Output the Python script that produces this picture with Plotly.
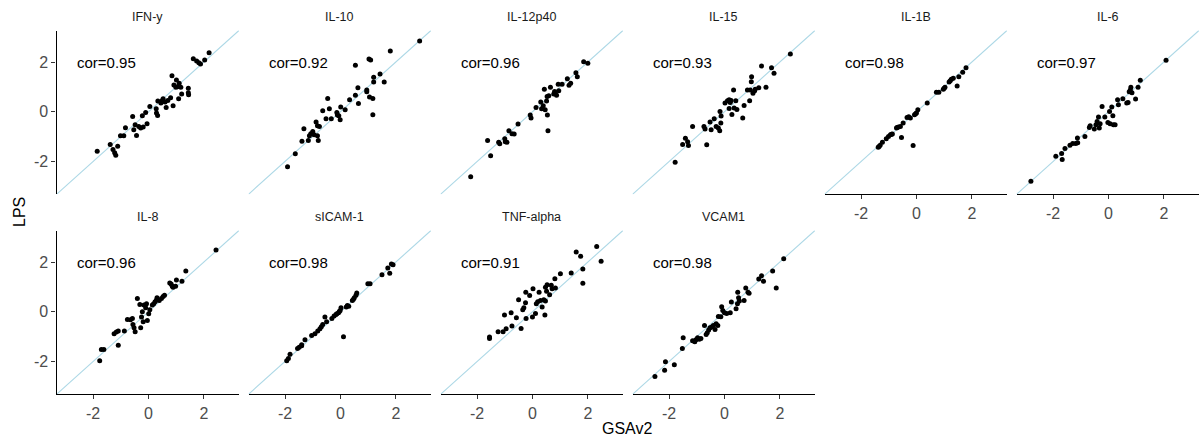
import plotly.graph_objects as go

# ---------------- data ----------------
panel_names = ["IFN-y", "IL-10", "IL-12p40", "IL-15", "IL-1B", "IL-6",
               "IL-8", "sICAM-1", "TNF-alpha", "VCAM1"]
cor_values = [0.95, 0.92, 0.96, 0.93, 0.98, 0.97, 0.96, 0.98, 0.91, 0.98]

ifn_x = [-1.85, -1.38, -1.28, -1.22, -1.18, -1.11, -1.01, -0.89, -0.83, -0.57, -0.53, -0.48, -0.43,
         -0.35, -0.28, -0.19, -0.22, -0.10, -0.05, 0.05, 0.28, 0.29, 0.33, 0.45, 0.50, 0.53, 0.60,
         0.64, 0.70, 0.80, 0.85, 0.89, 0.92, 0.99, 1.01, 1.05, 1.09, 1.11, 1.17, 1.20, 1.44, 1.44,
         1.45, 1.62, 1.74, 1.82, 1.88, 2.03, 2.19, 0.34]
ifn_y = [-1.59, -1.32, -1.52, -1.65, -1.75, -1.39, -0.96, -0.96, -0.64, -0.19, -0.72, -0.52, -0.95,
         -0.59, -0.65, -0.61, -0.16, -0.03, -0.48, 0.21, 0.12, -0.05, -0.15, 0.35, 0.45, 0.52, 0.39,
         0.17, 0.45, 0.56, 1.45, 0.24, 1.08, 0.99, 1.28, 1.01, 0.52, 1.15, 0.99, 0.72, 0.95, 0.77,
         0.69, 2.13, 2.04, 1.97, 1.92, 2.08, 2.37, 0.43]

il10_x = [-1.91, -1.63, -1.39, -1.32, -1.16, -1.12, -1.07, -1.00, -0.95, -0.88, -0.83, -0.80, -0.83,
          -0.76, -0.64, -0.52, -0.46, -0.40, -0.33, -0.13, -0.11, -0.06, -0.01, 0.01, 0.17, 0.33,
          0.54, 0.54, 0.63, 0.65, 0.95, 0.95, 1.03, 1.09, 1.05, 1.17, 1.20, 1.20, 1.17, 1.43, 1.58,
          1.80, 2.86]
il10_y = [-2.21, -1.69, -1.19, -0.68, -1.16, -0.96, -0.88, -0.79, -0.92, -0.41, -0.96, -1.16, -0.56,
          -0.59, 0.04, -0.28, 0.53, 0.12, -0.28, -0.03, -0.13, -0.16, -0.32, 0.19, 0.08, 0.48,
          1.87, 0.67, 0.97, 0.33, 0.88, 0.81, 2.12, 2.08, 0.59, 0.53, 1.39, 1.20, -0.12, 1.52, 1.20,
          2.45, 2.85]

il12_x = [-2.23, -1.62, -1.51, -1.22, -1.18, -1.00, -0.98, -0.92, -0.85, -0.74, -0.66, -0.52, -0.08,
          -0.05, 0.13, 0.30, 0.33, 0.39, 0.43, 0.46, 0.51, 0.54, 0.56, 0.53, 0.59, 0.65, 0.77, 0.82,
          0.87, 0.93, 0.95, 1.07, 1.26, 1.32, 1.38, 1.57, 1.62, 1.85, 2.00, 0.80]
il12_y = [-2.61, -1.16, -1.77, -1.23, -1.29, -1.09, -1.21, -1.23, -0.76, -0.88, -0.89, -0.49, -0.13,
          -0.25, 0.17, 0.39, 0.12, 0.24, 0.91, 0.08, 0.43, -0.13, -0.76, 0.61, 0.64, 0.99, 0.72, 0.76,
          0.67, 1.11, 0.85, 1.11, 1.33, 1.07, 1.15, 1.57, 1.41, 2.01, 1.95, 0.82]

il15_x = [-1.78, -1.51, -1.41, -1.33, -1.30, -1.15, -0.74, -0.70, -0.64, -0.52, -0.48, -0.37, -0.30,
          -0.22, -0.17, -0.13, -0.16, -0.12, 0.02, 0.11, 0.17, 0.21, 0.17, 0.24, 0.27, 0.33, 0.35,
          0.41, 0.45, 0.66, 0.71, 0.83, 0.91, 0.93, 0.97, 0.98, 1.03, 1.09, 1.11, 1.24, 1.34, 1.50,
          1.70, 1.79, 2.38]
il15_y = [-2.03, -1.32, -1.07, -1.21, -1.36, -0.59, -0.59, -0.69, -1.33, -0.41, -0.72, -0.28, -0.59,
          -0.65, -0.76, -0.45, 0.01, -0.17, 0.35, 0.44, 0.48, 0.37, 0.13, 0.45, -0.11, 0.88, 0.15,
          0.44, 0.09, -0.25, 0.25, 0.88, 0.44, 0.88, 1.21, 1.41, 0.75, 0.85, 0.91, 0.97, 1.84, 0.99,
          1.77, 1.55, 2.32]

il1b_x = [-1.38, -1.31, -1.23, -1.09, -1.01, -0.94, -0.87, -0.72, -0.65, -0.58, -0.54, -0.48, -0.34,
          -0.22, -0.12, -0.07, 0.00, 0.05, 0.39, 0.72, 0.81, 0.97, 1.03, 1.18, 1.26, 1.33, 1.47,
          1.53, 1.67, 1.79, -0.70, -0.28, -0.03, 1.00, 1.22, -1.35, -0.90]
il1b_y = [-1.43, -1.35, -1.23, -1.09, -0.99, -0.92, -0.89, -0.65, -0.61, -0.59, -1.03, -0.45, -0.23,
          -0.25, -1.36, -0.12, -0.05, 0.08, 0.35, 0.79, 0.79, 0.91, 0.99, 1.20, 1.31, 1.35, 1.04,
          1.41, 1.59, 1.77, -0.63, -0.20, -0.08, 0.95, 1.25, -1.40, -0.90]

il6_x = [-2.80, -1.90, -1.69, -1.67, -1.57, -1.39, -1.29, -1.18, -1.11, -1.12, -0.85, -0.69, -0.66,
         -0.51, -0.45, -0.41, -0.36, -0.33, -0.30, -0.23, -0.13, -0.02, 0.04, 0.06, 0.12, 0.16, 0.18,
         0.24, 0.36, 0.33, 0.52, 0.66, 0.71, 0.75, 0.79, 0.81, 0.85, 0.98, 1.07, 1.15, 2.08]
il6_y = [-2.79, -1.79, -1.68, -1.92, -1.48, -1.35, -1.28, -1.28, -1.25, -1.05, -0.99, -0.63, -0.56,
         -0.69, -0.52, -0.39, -0.21, -0.65, -0.48, 0.21, -0.21, -0.43, 0.01, -0.48, 0.19, -0.16, -0.52,
         -0.52, 0.28, 0.48, 0.52, 0.35, 0.37, 0.81, 0.88, 0.99, 0.77, 0.51, 0.99, 1.27, 2.07]

il8_x = [-1.76, -1.70, -1.61, -1.24, -1.16, -1.09, -1.09, -0.87, -0.76, -0.65, -0.58, -0.56, -0.52,
         -0.48, -0.40, -0.31, -0.28, -0.25, -0.22, -0.19, -0.16, -0.10, -0.07, -0.04, 0.01, 0.05,
         0.14, 0.19, 0.24, 0.29, 0.31, 0.39, 0.47, 0.53, 0.58, 0.77, 0.82, 0.86, 0.89, 0.98, 1.01,
         1.21, 1.35, 2.44]
il8_y = [-1.97, -1.52, -1.52, -0.88, -0.81, -0.77, -1.35, -0.77, -0.31, -0.32, -0.27, -0.51, -0.64,
         -0.80, 0.53, 0.29, -0.64, -0.21, 0.00, -0.40, 0.27, 0.16, 0.32, -0.35, -0.08, 0.08,
         0.27, 0.32, 0.40, 0.47, 0.56, 0.45, 0.53, 0.61, 0.67, 1.16, 1.12, 1.03, 0.99, 1.03, 1.28,
         1.23, 1.64, 2.49]

sicam_x = [-1.94, -1.88, -1.82, -1.55, -1.49, -1.40, -1.28, -1.04, -0.92, -0.82, -0.74, -0.64, -0.56,
           -0.31, -0.23, -0.16, -0.07, -0.01, 0.02, 0.11, 0.21, 0.25, 0.43, 0.50, 0.56, 0.59, 0.99,
           1.07, 1.50, 1.71, 1.78, 1.84, 1.90, -0.13, -0.04, -0.69, -1.40, -0.50, 0.30, 0.47]
sicam_y = [-1.97, -1.88, -1.71, -1.48, -1.43, -1.33, -1.13, -0.95, -0.88, -0.77, -0.68, -0.51, -0.21,
           -0.27, -0.17, -0.11, -0.04, 0.05, 0.16, -1.00, 0.19, 0.25, 0.45, 0.56, 0.67, 0.76, 1.13,
           1.13, 1.49, 1.76, 1.55, 1.92, 1.89, -0.08, 0.01, -0.60, -1.37, -0.40, 0.22, 0.50]

tnf_x = [-1.55, -1.55, -1.24, -1.06, -1.01, -0.95, -0.77, -0.74, -0.58, -0.50, -0.41, -0.35, -0.31,
         -0.25, -0.24, -0.23, -0.10, 0.00, 0.02, 0.11, 0.14, 0.19, 0.24, 0.29, 0.35, 0.41, 0.45,
         0.47, 0.47, 0.51, 0.53, 0.62, 0.68, 0.71, 0.81, 0.83, 1.01, 1.40, 1.58, 1.74, 1.82, 1.82,
         2.32, 2.48]
tnf_y = [-1.01, -1.08, -0.80, -0.80, -0.13, -0.68, -0.04, -0.57, -0.24, 0.48, -0.67, 0.08, 0.16,
         0.36, 0.79, -0.27, 0.65, -0.21, 0.93, -0.07, 0.32, 0.40, 0.79, 0.45, 0.19, 0.48, -0.13,
         0.43, 0.99, 0.83, 1.09, 0.69, 1.07, 0.93, 1.33, 0.96, 1.53, 1.56, 2.40, 2.23, 1.72, 1.15,
         2.63, 2.03]

vcam_x = [-2.51, -2.16, -2.13, -1.81, -1.52, -1.49, -1.15, -1.07, -1.03, -0.97, -0.91, -0.85, -0.72,
          -0.66, -0.62, -0.57, -0.52, -0.46, -0.40, -0.34, -0.30, -0.24, -0.22, -0.13, -0.10, -0.06,
          0.00, 0.08, 0.21, 0.25, 0.42, 0.47, 0.51, 0.48, 0.54, 0.71, 0.77, 0.85, 0.89, 1.24, 1.34,
          1.41, 1.74, 1.87, 2.14]
vcam_y = [-2.60, -2.35, -2.01, -2.13, -1.48, -1.04, -1.17, -1.21, -1.13, -1.04, -1.11, -1.08, -0.55,
          -0.91, -0.84, -0.73, -0.64, -0.61, -0.55, -0.71, -0.48, -0.55, -0.19, -0.20, 0.20, 0.05,
          -0.04, -0.07, -0.04, 0.39, 0.12, 0.32, 0.56, 0.79, 0.43, 0.45, 0.96, 0.79, 0.75, 1.32, 1.45,
          1.23, 1.64, 0.96, 2.13]

panel_x = [ifn_x, il10_x, il12_x, il15_x, il1b_x, il6_x, il8_x, sicam_x, tnf_x, vcam_x]
panel_y = [ifn_y, il10_y, il12_y, il15_y, il1b_y, il6_y, il8_y, sicam_y, tnf_y, vcam_y]

tick_vals = [-2, 0, 2]
tick_text = ["-2", "0", "2"]
x_title = "GSAv2"
y_title = "LPS"

# ---------------- layout geometry ----------------
W, H = 1199, 441
axis_range = [-3.32, 3.27]
ncol = 6
col_left0, col_step, col_w = 56.5, 192.0, 182.5
row_tops = [30.5, 230.5]
row_h = 163.8
FONT = "Liberation Sans, Arial, Helvetica, sans-serif"

fig = go.Figure()
annotations = []
layout_axes = {}

for i, name in enumerate(panel_names):
    r, c = divmod(i, ncol)
    k = i + 1
    xa = "x" if k == 1 else f"x{k}"
    ya = "y" if k == 1 else f"y{k}"
    x0 = col_left0 + col_step * c
    x1 = min(x0 + col_w, W)
    ytop = row_tops[r]
    ybot = ytop + row_h
    xdom = [x0 / W, x1 / W]
    ydom = [1 - ybot / H, 1 - ytop / H]

    below = i + ncol
    show_x = below >= len(panel_names)
    show_y = (c == 0)

    fig.add_trace(go.Scatter(x=axis_range, y=axis_range, mode="lines",
                             line=dict(color="#ADD8E6", width=1.1),
                             xaxis=xa, yaxis=ya, showlegend=False, hoverinfo="skip"))
    fig.add_trace(go.Scatter(x=panel_x[i], y=panel_y[i], mode="markers",
                             marker=dict(color="black", size=5, line=dict(width=0)),
                             xaxis=xa, yaxis=ya, showlegend=False))

    common = dict(range=axis_range, showgrid=False, zeroline=False,
                  tickvals=tick_vals, ticktext=tick_text,
                  tickfont=dict(family=FONT, size=16, color="#4D4D4D"),
                  ticklen=4, tickwidth=1.1, tickcolor="#333333",
                  linecolor="black", linewidth=1.1, fixedrange=True)
    xkey = "xaxis" if k == 1 else f"xaxis{k}"
    ykey = "yaxis" if k == 1 else f"yaxis{k}"
    layout_axes[xkey] = dict(common, domain=xdom, anchor=ya, showline=show_x,
                             showticklabels=show_x, ticks="outside" if show_x else "")
    layout_axes[ykey] = dict(common, domain=ydom, anchor=xa, showline=show_y,
                             showticklabels=show_y, ticks="outside" if show_y else "")

    annotations.append(dict(x=(x0 + x1) / 2 / W, y=1 - (ytop - 13.2) / H,
                            xref="paper", yref="paper", text=name, showarrow=False,
                            font=dict(family=FONT, size=12.5, color="#1A1A1A"),
                            xanchor="center", yanchor="middle"))
    annotations.append(dict(x=-2.65, y=2, xref=xa, yref=ya,
                            text=f"cor={cor_values[i]:.2f}", showarrow=False,
                            font=dict(family=FONT, size=15, color="black"),
                            xanchor="left", yanchor="middle"))

annotations.append(dict(x=(col_left0 + W) / 2 / W, y=1 - 428 / H, xref="paper", yref="paper",
                        text=x_title, showarrow=False,
                        font=dict(family=FONT, size=16, color="black"),
                        xanchor="center", yanchor="middle"))
annotations.append(dict(x=20 / W, y=1 - 212 / H, xref="paper", yref="paper",
                        text=y_title, showarrow=False, textangle=-90,
                        font=dict(family=FONT, size=16, color="black"),
                        xanchor="center", yanchor="middle"))

fig.update_layout(width=W, height=H, margin=dict(l=0, r=0, t=0, b=0),
                  paper_bgcolor="white", plot_bgcolor="white",
                  annotations=annotations, showlegend=False, **layout_axes)

fig.write_html("out.html", config={"displayModeBar": False},
               post_script="document.body.style.margin='0';document.body.style.padding='0';"
                           "document.documentElement.style.overflow='hidden';")
